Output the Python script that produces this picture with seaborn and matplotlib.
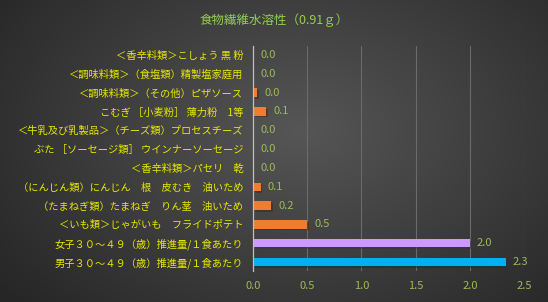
import numpy as np
import pandas as pd
import matplotlib
matplotlib.use("Agg")
import matplotlib.pyplot as plt
import matplotlib.patheffects as pe
import seaborn as sns

categories = [
    "＜香辛料類＞こしょう 黒 粉",
    "＜調味料類＞（食塩類）精製塩家庭用",
    "＜調味料類＞（その他）ピザソース",
    "こむぎ ［小麦粉］ 薄力粉　1等",
    "＜牛乳及び乳製品＞（チーズ類）プロセスチーズ",
    "ぶた ［ソーセージ類］ ウインナーソーセージ",
    "＜香辛料類＞パセリ　乾",
    "（にんじん類）にんじん　根　皮むき　油いため",
    "（たまねぎ類）たまねぎ　りん茎　油いため",
    "＜いも類＞じゃがいも　フライドポテト",
    "女子３０～４９（歳）推進量/１食あたり",
    "男子３０～４９（歳）推進量/１食あたり",
]
values = [0.0, 0.0, 0.04, 0.12, 0.0, 0.0, 0.0, 0.07, 0.17, 0.5, 2.0, 2.33]
bar_colors = ["#ED7D31"] * 10 + ["#CC99FF", "#00B0F0"]
title = "食物繊維水溶性（0.91ｇ）"
xticks = [0.0, 0.5, 1.0, 1.5, 2.0, 2.5]

sns.set_theme(style="dark")
plt.rcParams["font.family"] = ["Noto Sans CJK JP", "DejaVu Sans"]

fig = plt.figure(figsize=(5.48, 3.02), dpi=100)

# background radial gradient
bg = fig.add_axes([0, 0, 1, 1], zorder=-10)
H, W = 302, 548
yy, xx = np.mgrid[0:H, 0:W]
r = np.sqrt(((xx - 300) / 380.0) ** 2 + ((yy - 130) / 260.0) ** 2)
r = np.clip(r, 0, 1)
cc, ce = 0x56 / 255, 0x26 / 255
g = cc + (ce - cc) * r
img = np.dstack([g, g, g])
bg.imshow(img, aspect="auto", extent=[0, 1, 0, 1], origin="upper")
bg.axis("off")

ax = fig.add_axes([0.4617, 0.101, 0.4945, 0.748])
ax.patch.set_alpha(0)
df = pd.DataFrame({"cat": categories, "val": values})
sns.barplot(data=df, y="cat", x="val", hue="cat", palette=bar_colors,
            legend=False, ax=ax, width=0.45, orient="h", saturation=1,
            linewidth=0, edgecolor="none")
for p in ax.patches:
    p.set_path_effects([pe.SimplePatchShadow(offset=(1.2, -1.2), alpha=0.5), pe.Normal()])

for i, v in enumerate(values):
    ax.text(v + 0.065, i, f"{v:.1f}", va="center", ha="left",
            color="#9BBB59", fontsize=8)

ax.set_xlim(0, 2.5)
ax.set_xticks(xticks)
ax.set_xticklabels([f"{t:.1f}" for t in xticks], color="#9BBB59", fontsize=8)
ax.set_ylabel("")
ax.set_xlabel("")
ax.tick_params(axis="y", colors="#E8E800", labelsize=7.4, length=0, pad=7)
ax.tick_params(axis="x", length=0, pad=7)
for lbl in ax.get_yticklabels():
    lbl.set_color("#E8E800")
ax.grid(axis="x", color="#6A6A6A", linewidth=0.8)
ax.grid(axis="y", visible=False)
for s in ["top", "right", "bottom"]:
    ax.spines[s].set_visible(False)
ax.spines["left"].set_color("#BFBFBF")
ax.spines["left"].set_linewidth(0.9)

fig.text(0.5, 0.934, title, ha="center", va="center", color="#92D050",
         fontsize=9)

fig.savefig("out.png", dpi=100)
